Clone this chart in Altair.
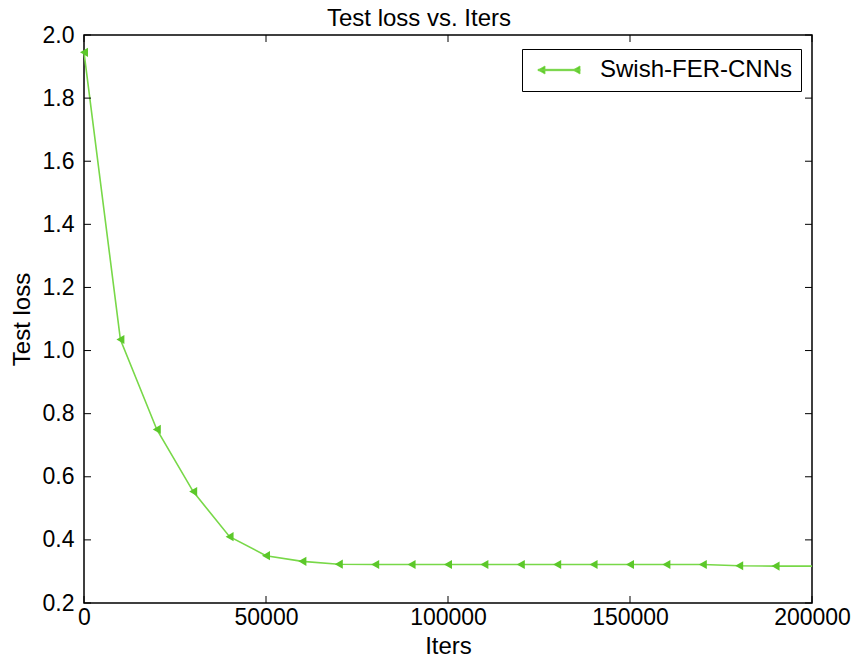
import altair as alt
import pandas as pd

# ---- data ----
iters = [0, 10000, 20000, 30000, 40000, 50000, 60000, 70000, 80000, 90000,
         100000, 110000, 120000, 130000, 140000, 150000, 160000, 170000, 180000, 190000]
loss = [1.945, 1.035, 0.750, 0.553, 0.410, 0.350, 0.332, 0.323, 0.322, 0.322,
        0.322, 0.322, 0.322, 0.322, 0.322, 0.322, 0.322, 0.322, 0.318, 0.317]
line_end_iter = [200000]
line_end_loss = [0.317]
series_name = "Swish-FER-CNNs"
x_ticks = [0, 50000, 100000, 150000, 200000]
y_ticks = [0.2, 0.4, 0.6, 0.8, 1.0, 1.2, 1.4, 1.6, 1.8, 2.0]

LINE_GREEN = "#78d848"
MARK_GREEN = "#5cc82a"
FONT = "Liberation Sans"

line_df = pd.DataFrame({"iters": iters + line_end_iter,
                        "loss": loss + line_end_loss,
                        "series": series_name})
pts_df = pd.DataFrame({"iters": iters, "loss": loss})
xt = pd.DataFrame({"iters": x_ticks})
yt = pd.DataFrame({"loss": y_ticks})

xs = alt.Scale(domain=[0, 200000], nice=False, zero=False)
ys = alt.Scale(domain=[0.2, 2.0], nice=False, zero=False)

xaxis = alt.Axis(values=x_ticks, format="d", ticks=False, domain=False, grid=False,
                 labelFlush=False, labelOverlap=False, labelPadding=3,
                 title="Iters", titleY=50, titleBaseline="alphabetic")
yaxis = alt.Axis(values=y_ticks, format=".1f", ticks=False, domain=False, grid=False,
                 labelFlush=False, labelOverlap=False, labelPadding=10,
                 title="Test loss", titleX=-62, titleY=284, titleBaseline="middle",
                 titleAlign="center")

X = alt.X("iters:Q", scale=xs, axis=xaxis)
Y = alt.Y("loss:Q", scale=ys, axis=yaxis)

legend_symbol = ("M-0.5,-0.07 H3.7 V0.07 H-0.5 Z "
                 "M-0.5,0 L0.2,-0.4 L0.2,0.4 Z "
                 "M3.0,0 L3.7,-0.4 L3.7,0.4 Z")

line = alt.Chart(line_df).mark_line(strokeWidth=1.6).encode(
    x=X, y=Y,
    color=alt.Color("series:N", scale=alt.Scale(domain=[series_name], range=[LINE_GREEN]),
                    legend=alt.Legend(title=None, orient="none", legendX=438, legendY=14,
                                      symbolType=legend_symbol, symbolSize=400,
                                      symbolStrokeWidth=0.8,
                                      symbolFillColor=MARK_GREEN,
                                      symbolStrokeColor=MARK_GREEN,
                                      labelFont=FONT, labelFontSize=24, labelColor="black",
                                      labelLimit=400,
                                      labelOffset=45, padding=9,
                                      strokeColor="black", fillColor="white")),
)

points = alt.Chart(pts_df).mark_point(filled=True, size=85, opacity=1,
                                      shape="triangle-left", color=MARK_GREEN).encode(
    x=X, y=Y,
)

tick_len = 7
x_bottom = alt.Chart(xt).mark_rule(color="black", strokeWidth=1).encode(
    x=X, y=alt.value(568), y2=alt.value(568 - tick_len))
x_top = alt.Chart(xt).mark_rule(color="black", strokeWidth=1).encode(
    x=X, y=alt.value(0), y2=alt.value(tick_len))
y_left = alt.Chart(yt).mark_rule(color="black", strokeWidth=1).encode(
    y=Y, x=alt.value(0), x2=alt.value(tick_len))
y_right = alt.Chart(yt).mark_rule(color="black", strokeWidth=1).encode(
    y=Y, x=alt.value(728), x2=alt.value(728 - tick_len))

chart = alt.layer(line, points, x_bottom, x_top, y_left, y_right).properties(
    width=728, height=568,
    title=alt.TitleParams("Test loss vs. Iters", font=FONT, fontSize=24, fontWeight="normal",
                          color="black", offset=6, dx=-29, dy=13, frame="group"),
    autosize=alt.AutoSizeParams(type="none"),
    padding={"left": 84, "top": 35, "right": 41, "bottom": 55},
).configure(background="white").configure_view(
    stroke="black", strokeWidth=1.5
).configure_axis(
    labelFont=FONT, labelFontSize=23, labelColor="black",
    titleFont=FONT, titleFontSize=24, titleFontWeight="normal", titleColor="black",
)

chart.save("out.html", embed_options={"renderer": "svg", "actions": False})
